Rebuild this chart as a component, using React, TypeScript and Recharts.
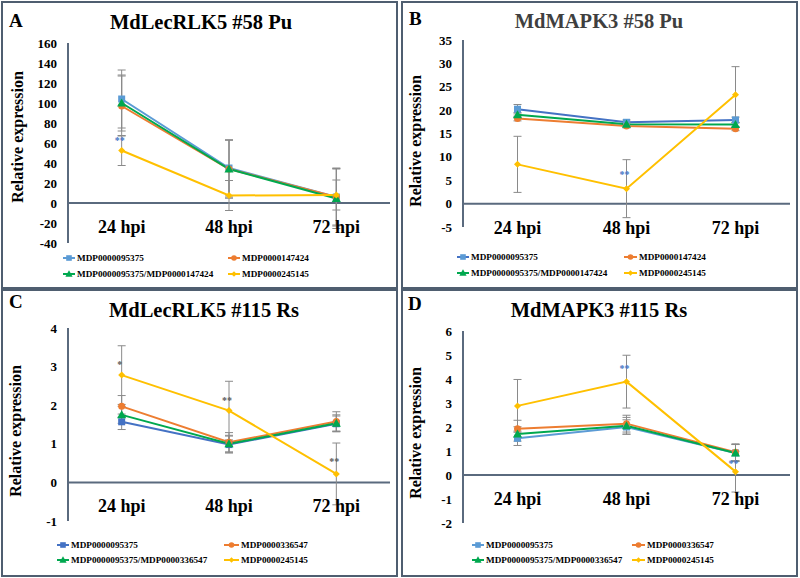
import React from "react";
import { LineChart, Line, XAxis, YAxis, ErrorBar, ReferenceLine, ReferenceDot } from "recharts";

const timepoints = ["24 hpi", "48 hpi", "72 hpi"];

// A - MdLecRLK5 #58 Pu
const a95375 = [104, 35, 6];
const a95375Err = [29, 28, 29];
const a147424 = [97, 34, 6];
const a147424Err = [30, 29, 28];
const aCombo = [100, 34, 4.5];
const aComboErr = [28, 29, 30];
const a245145 = [52.5, 7.5, 8];
const a245145Err = [15, 15, 15];
const aTicks = [-40, -20, 0, 20, 40, 60, 80, 100, 120, 140, 160];
const aSig = [{ t: "24 hpi", y: 62, mark: "**" }];

// B - MdMAPK3 #58 Pu
const b95375 = [20.2, 17.4, 17.9];
const b95375Err = [1, 0.5, 0.6];
const b147424 = [18.2, 16.6, 16.0];
const b147424Err = [0.5, 0.4, 0.4];
const bCombo = [19.0, 17.0, 16.9];
const bComboErr = [0.5, 0.4, 0.5];
const b245145 = [8.4, 3.2, 23.3];
const b245145Err = [6, 6.2, 6];
const bTicks = [-5, 0, 5, 10, 15, 20, 25, 30, 35];
const bSig = [{ t: "48 hpi", y: 6.2, mark: "**" }];

// C - MdLecRLK5 #115 Rs
const c95375 = [1.57, 0.98, 1.52];
const c95375Err = [0.2, 0.22, 0.2];
const c336547 = [1.97, 1.04, 1.58];
const c336547Err = [0.28, 0.25, 0.25];
const cCombo = [1.75, 1.0, 1.53];
const cComboErr = [0.22, 0.22, 0.22];
const c245145 = [2.78, 1.86, 0.22];
const c245145Err = [0.76, 0.76, 0.8];
const cTicks = [-1, 0, 1, 2, 3, 4];
const cSig = [
  { t: "24 hpi", y: 3.05, mark: "*" },
  { t: "48 hpi", y: 2.1, mark: "**" },
  { t: "72 hpi", y: 0.52, mark: "**" },
];

// D - MdMAPK3 #115 Rs
const d95375 = [1.53, 2.0, 0.92];
const d95375Err = [0.3, 0.3, 0.35];
const d336547 = [1.93, 2.14, 0.95];
const d336547Err = [0.35, 0.35, 0.35];
const dCombo = [1.71, 2.05, 0.92];
const dComboErr = [0.3, 0.35, 0.35];
const d245145 = [2.88, 3.89, 0.14];
const d245145Err = [1.1, 1.1, 0.85];
const dTicks = [-2, -1, 0, 1, 2, 3, 4, 5, 6];
const dSig = [
  { t: "48 hpi", y: 4.4, mark: "**" },
  { t: "72 hpi", y: 0.45, mark: "**" },
];

const namesPu = ["MDP0000095375", "MDP0000147424", "MDP0000095375/MDP0000147424", "MDP0000245145"];
const namesRs = ["MDP0000095375", "MDP0000336547", "MDP0000095375/MDP0000336547", "MDP0000245145"];

const serif = '"Times New Roman", "Liberation Serif", Times, serif';
const axisColor = "#5a6a7e";
const borderColor = "#4f5e70";
const errColor = "#8a8a8a";
const lightBlue = "#5b9bd5";
const darkBlue = "#4472c4";
const orange = "#ed7d31";
const green = "#00a84f";
const yellow = "#ffc000";
const shapes = ["square", "circle", "triangle", "diamond"];

function makeRows(vals: number[][], errs: number[][]) {
  return timepoints.map((t, i) => {
    const row: any = { t };
    vals.forEach((v, k) => {
      row[`s${k + 1}`] = v[i];
      row[`e${k + 1}`] = errs[k][i];
    });
    return row;
  });
}

const panels = [
  {
    id: "A",
    title: "MdLecRLK5 #58 Pu",
    titleColor: "#000",
    box: { left: 1, top: 1 },
    plot: { left: 68, top: 43, right: 390, bottom: 243 },
    domain: [-40, 160],
    ticks: aTicks,
    rows: makeRows([a95375, a147424, aCombo, a245145], [a95375Err, a147424Err, aComboErr, a245145Err]),
    names: namesPu,
    lines: [lightBlue, orange, green, yellow],
    markers: [lightBlue, orange, green, yellow],
    sig: aSig,
    sigColor: darkBlue,
    titlePos: { x: 201, y: 29 },
    letterPos: { x: 9, y: 27 },
    ylabel: { x: 17, y: 137 },
    legend: { rows: [258, 274], cols: [{ line: 63, text: 77 }, { line: 228, text: 242 }] },
  },
  {
    id: "B",
    title: "MdMAPK3 #58 Pu",
    titleColor: "#3f3f3f",
    box: { left: 401, top: 1 },
    plot: { left: 463, top: 40, right: 790, bottom: 227 },
    domain: [-5, 35],
    ticks: bTicks,
    rows: makeRows([b95375, b147424, bCombo, b245145], [b95375Err, b147424Err, bComboErr, b245145Err]),
    names: namesPu,
    lines: [darkBlue, orange, green, yellow],
    markers: [lightBlue, orange, green, yellow],
    sig: bSig,
    sigColor: darkBlue,
    titlePos: { x: 599, y: 28 },
    letterPos: { x: 409, y: 25 },
    ylabel: { x: 415, y: 141 },
    legend: { rows: [257, 273], cols: [{ line: 457, text: 471 }, { line: 624, text: 639 }] },
  },
  {
    id: "C",
    title: "MdLecRLK5 #115 Rs",
    titleColor: "#000",
    box: { left: 1, top: 289 },
    plot: { left: 68, top: 328, right: 390, bottom: 521 },
    domain: [-1, 4],
    ticks: cTicks,
    rows: makeRows([c95375, c336547, cCombo, c245145], [c95375Err, c336547Err, cComboErr, c245145Err]),
    names: namesRs,
    lines: [darkBlue, orange, green, yellow],
    markers: [darkBlue, orange, green, yellow],
    sig: cSig,
    sigColor: "#595959",
    titlePos: { x: 204, y: 317 },
    letterPos: { x: 9, y: 308 },
    ylabel: { x: 15, y: 431 },
    legend: { rows: [545, 560], cols: [{ line: 57, text: 71 }, { line: 224, text: 241 }] },
  },
  {
    id: "D",
    title: "MdMAPK3 #115 Rs",
    titleColor: "#000",
    box: { left: 401, top: 289 },
    plot: { left: 463, top: 331, right: 790, bottom: 523 },
    domain: [-2, 6],
    ticks: dTicks,
    rows: makeRows([d95375, d336547, dCombo, d245145], [d95375Err, d336547Err, dComboErr, d245145Err]),
    names: namesRs,
    lines: [lightBlue, orange, green, yellow],
    markers: [lightBlue, orange, green, yellow],
    sig: dSig,
    sigColor: darkBlue,
    titlePos: { x: 599, y: 317 },
    letterPos: { x: 408, y: 310 },
    ylabel: { x: 415, y: 433 },
    legend: { rows: [545, 560], cols: [{ line: 472, text: 486 }, { line: 632, text: 647 }] },
  },
];

const BOX_W = 397;
const BOX_H = 288;
const XAXIS_H = 30;

function Marker({ cx, cy, shape, fill, k = 1 }: any) {
  if (cx == null || cy == null) return null;
  const s = 3.5 * k;
  if (shape === "square") return <rect x={cx - s} y={cy - s} width={2 * s} height={2 * s} fill={fill} />;
  if (shape === "circle") return <circle cx={cx} cy={cy} r={s} fill={fill} />;
  if (shape === "triangle")
    return <polygon points={`${cx},${cy - 1.3 * s} ${cx + 1.3 * s},${cy + s} ${cx - 1.3 * s},${cy + s}`} fill={fill} />;
  return <polygon points={`${cx},${cy - s} ${cx + s},${cy} ${cx},${cy + s} ${cx - s},${cy}`} fill={fill} />;
}

function HpiTick({ x, y, payload, lift }: any) {
  return (
    <text x={x} y={y + lift} textAnchor="middle" fontFamily={serif} fontSize={18} fontWeight={700} fill="#000">
      {payload.value}
    </text>
  );
}

function Panel({ p }: any) {
  const plotW = p.plot.right - p.plot.left;
  const plotH = p.plot.bottom - p.plot.top;
  const [lo, hi] = p.domain;
  const zeroOffset = (plotH * (0 - lo)) / (hi - lo);
  const pad = plotW / 6;
  const margin = {
    top: p.plot.top - p.box.top,
    right: p.box.left + BOX_W - p.plot.right,
    bottom: p.box.top + BOX_H - p.plot.bottom - XAXIS_H,
    left: 0,
  };
  return (
    <>
      <div
        style={{
          position: "absolute",
          left: p.box.left,
          top: p.box.top,
          width: BOX_W,
          height: BOX_H,
          border: `2px solid ${borderColor}`,
          boxSizing: "border-box",
        }}
      />
      <div style={{ position: "absolute", left: p.box.left, top: p.box.top }}>
        <LineChart width={BOX_W} height={BOX_H} data={p.rows} margin={margin}>
          <XAxis
            dataKey="t"
            axisLine={false}
            tickLine={false}
            height={XAXIS_H}
            interval={0}
            padding={{ left: pad, right: pad }}
            tick={<HpiTick lift={22 - zeroOffset} />}
          />
          <YAxis
            type="number"
            width={p.plot.left - p.box.left}
            domain={p.domain}
            ticks={p.ticks}
            interval={0}
            allowDataOverflow
            axisLine={{ stroke: axisColor, strokeWidth: 2 }}
            tickLine={false}
            tickSize={6}
            tickMargin={5}
            tick={{ fontSize: 13, fontWeight: 700, fill: "#000", fontFamily: serif }}
          />
          <ReferenceLine y={0} stroke={axisColor} strokeWidth={2} />
          {p.lines.map((color: string, i: number) => (
            <Line
              key={`s${i + 1}`}
              dataKey={`s${i + 1}`}
              stroke={color}
              strokeWidth={2}
              isAnimationActive={false}
              activeDot={false}
              dot={(d: any) => (
                <Marker key={`m${i}-${d.index}`} cx={d.cx} cy={d.cy} shape={shapes[i]} fill={p.markers[i]} />
              )}
            >
              <ErrorBar dataKey={`e${i + 1}`} width={4} stroke={errColor} strokeWidth={1} direction="y" />
            </Line>
          ))}
          {p.sig.map((s: any, i: number) => (
            <ReferenceDot
              key={`sig${i}`}
              x={s.t}
              y={s.y}
              r={1}
              shape={(d: any) => (
                <text
                  x={d.cx - 2}
                  y={d.cy + 3}
                  textAnchor="middle"
                  fill={p.sigColor}
                  fontSize={10}
                  fontWeight={700}
                  fontFamily={serif}
                >
                  {s.mark}
                </text>
              )}
            />
          ))}
        </LineChart>
      </div>
      <svg
        width={800}
        height={578}
        style={{ position: "absolute", left: 0, top: 0, pointerEvents: "none" }}
        fontFamily={serif}
        fontWeight={700}
      >
        <text x={p.letterPos.x} y={p.letterPos.y} fontSize={19} fill="#000">
          {p.id}
        </text>
        <text x={p.titlePos.x} y={p.titlePos.y} fontSize={20.5} textAnchor="middle" fill={p.titleColor}>
          {p.title}
        </text>
        <text
          x={p.ylabel.x}
          y={p.ylabel.y}
          fontSize={16}
          textAnchor="middle"
          dominantBaseline="central"
          transform={`rotate(-90 ${p.ylabel.x} ${p.ylabel.y})`}
          fill="#000"
        >
          Relative expression
        </text>
        {p.names.map((name: string, i: number) => {
          const row = p.legend.rows[Math.floor(i / 2)];
          const col = p.legend.cols[i % 2];
          const mid = (col.line + col.text - 2) / 2;
          return (
            <g key={name + i}>
              <line x1={col.line} x2={col.text - 2} y1={row} y2={row} stroke={p.lines[i]} strokeWidth={2} />
              <Marker cx={mid} cy={row} shape={shapes[i]} fill={p.markers[i]} k={0.8} />
              <text x={col.text} y={row + 3.2} fontSize={9.2} fill="#000">
                {name}
              </text>
            </g>
          );
        })}
      </svg>
    </>
  );
}

export default function App() {
  return (
    <div style={{ position: "absolute", left: 0, top: 0, width: 800, height: 578, background: "#fff" }}>
      {panels.map((p) => (
        <Panel key={p.id} p={p} />
      ))}
    </div>
  );
}
